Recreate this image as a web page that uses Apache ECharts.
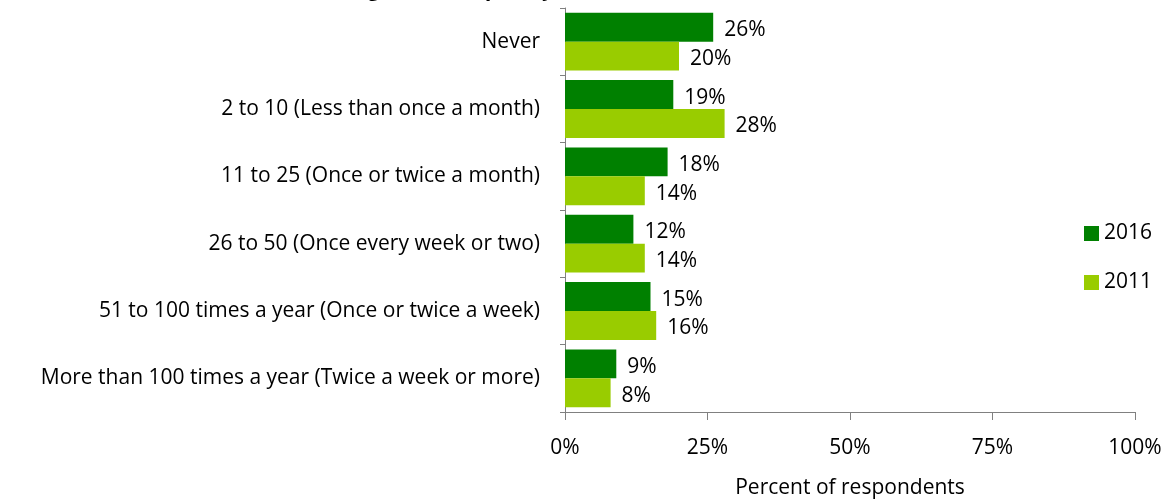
<!DOCTYPE html>
<html>
<head>
<meta charset="utf-8">
<script src="https://cdn.jsdelivr.net/npm/echarts@6/dist/echarts.min.js"></script>
<style>
  html, body { margin: 0; padding: 0; background: #fff; }
  #chart { width: 1173px; height: 500px; }
</style>
</head>
<body>
<div id="chart"></div>
<script>
// categories, top to bottom
const categories = [
  'Never',
  '2 to 10 (Less than once a month)',
  '11 to 25 (Once or twice a month)',
  '26 to 50 (Once every week or two)',
  '51 to 100 times a year (Once or twice a week)',
  'More than 100 times a year (Twice a week or more)'
];
const values2016 = [26, 19, 18, 12, 15, 9];
const values2011 = [20, 28, 14, 14, 16, 8];
const xTicks = [0, 25, 50, 75, 100];

const font = '"Open Sans", "Liberation Sans", sans-serif';

var chart = echarts.init(document.getElementById('chart'), null, { renderer: 'canvas' });

const labelStyle = {
  show: true,
  position: 'right',
  distance: 11,
  offset: [0, 3],
  formatter: '{c}%',
  color: '#000',
  fontSize: 21,
  fontFamily: font
};

chart.setOption({
  animation: false,
  title: {
    text: 'Figure 4. Frequency of Natural Area Visits',
    left: 562,
    textAlign: 'center',
    top: -25,
    textStyle: { fontSize: 21, fontWeight: 'bold', color: '#000', fontFamily: font }
  },
  grid: { left: 565, right: 38, top: 8, bottom: 88, containLabel: false, outerBoundsMode: 'none' },
  legend: {
    orient: 'vertical',
    left: 1079,
    top: 218,
    itemWidth: 15,
    itemHeight: 15,
    itemGap: 28,
    icon: 'rect',
    textStyle: { fontSize: 21, color: '#000', fontFamily: font },
    data: ['2016', '2011']
  },
  xAxis: {
    type: 'value',
    min: 0,
    max: 100,
    interval: 25,
    name: 'Percent of respondents',
    nameLocation: 'middle',
    nameGap: 66,
    nameTextStyle: { fontSize: 21, color: '#000', fontFamily: font },
    axisLine: { show: true, lineStyle: { color: '#808080', width: 1 } },
    axisTick: { show: true, length: 8, lineStyle: { color: '#808080' } },
    axisLabel: {
      fontSize: 21, color: '#000', fontFamily: font, margin: 26,
      formatter: function (v) { return xTicks.indexOf(v) >= 0 ? v + '%' : ''; }
    },
    splitLine: { show: false }
  },
  yAxis: {
    type: 'category',
    inverse: true,
    data: categories,
    axisLine: { show: true, lineStyle: { color: '#808080', width: 1 } },
    axisTick: { show: true, length: 5, inside: false, lineStyle: { color: '#808080' } },
    axisLabel: { fontSize: 21, color: '#000', fontFamily: font, margin: 25, padding: [6, 0, 0, 0] }
  },
  series: [
    {
      name: '2016',
      type: 'bar',
      data: values2016,
      barGap: '0%',
      barCategoryGap: '14%',
      itemStyle: { color: '#008000' },
      label: labelStyle
    },
    {
      name: '2011',
      type: 'bar',
      data: values2011,
      itemStyle: { color: '#99cc00' },
      label: labelStyle
    }
  ]
});
</script>
</body>
</html>
